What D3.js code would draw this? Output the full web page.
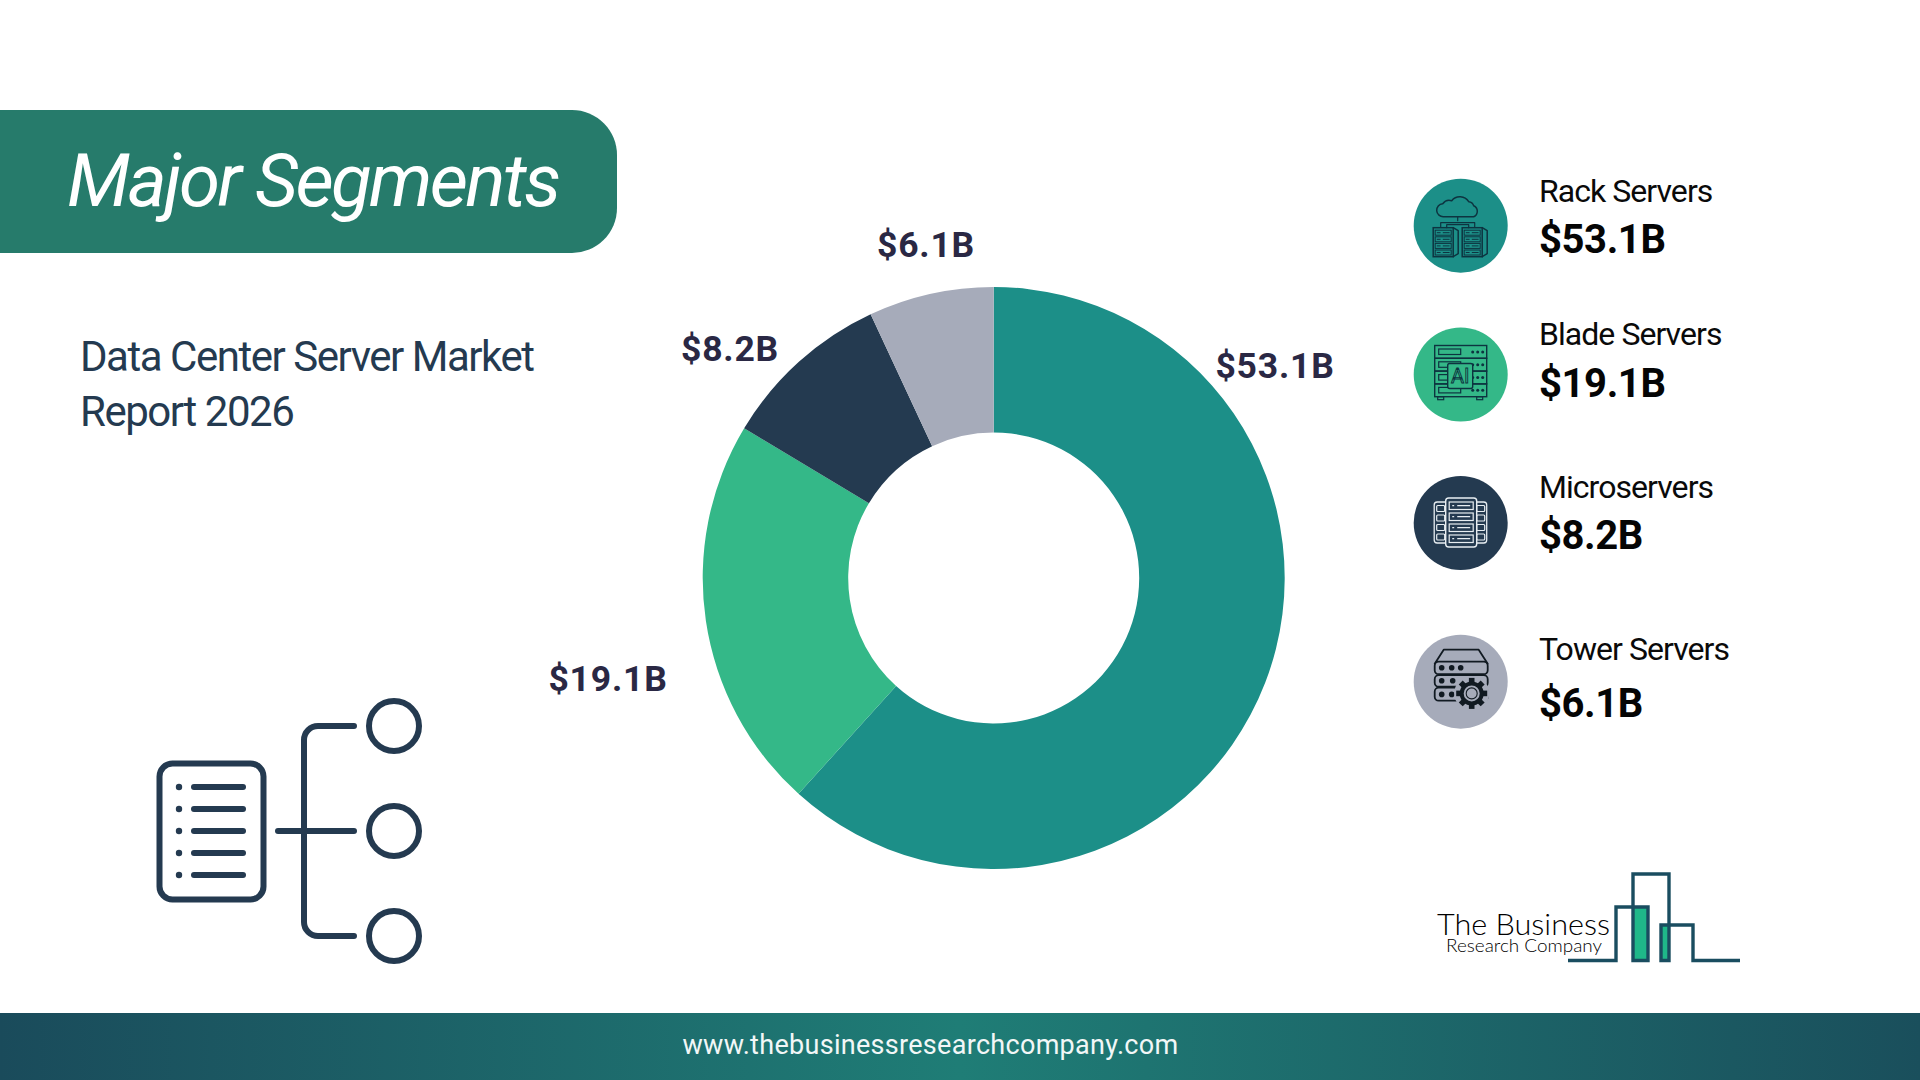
<!DOCTYPE html>
<html>
<head>
<meta charset="utf-8">
<script src="https://cdn.jsdelivr.net/npm/d3@7"></script>
<style>
  html, body { margin: 0; padding: 0; background: #fff; }
  svg { display: block; }
  text { font-family: Roboto, sans-serif; }
</style>
</head>
<body>
<svg id="chart" width="1920" height="1080"></svg>
<script>
// chart values
var categories = ["Rack Servers", "Blade Servers", "Microservers", "Tower Servers"];
var values = [53.1, 19.1, 8.2, 6.1];
// slice shares in percent, measured from the drawn donut (not quite values/total)
var shares = [61.7, 21.9, 9.45, 6.95];
var colors = ["#1c8f88", "#34b888", "#243a50", "#a6abba"];
var legendY = [225.7, 374.5, 523, 681.7];
var labelPos = [[1275, 365], [608, 678], [730, 348], [926, 244]];

var svg = d3.select("#chart");
var defs = svg.append("defs");
var navy = "#243a50";

function money(v) { return "$" + v + "B"; }

// footer gradient
var grad = defs.append("linearGradient").attr("id", "foot");
grad.append("stop").attr("offset", "0%").attr("stop-color", "#1a4b5b");
grad.append("stop").attr("offset", "50%").attr("stop-color", "#1f7d76");
grad.append("stop").attr("offset", "100%").attr("stop-color", "#1a4f5c");

// title tab
svg.append("path")
  .attr("d", "M0,110 H572 A45,45 0 0 1 617,155 V208 A45,45 0 0 1 572,253 H0 Z")
  .attr("fill", "#267b6b");
svg.append("text")
  .attr("x", 67).attr("y", 206)
  .attr("fill", "#fff")
  .style("font-size", "74.5px").style("font-weight", 400).style("font-style", "italic")
  .style("letter-spacing", "-2.6px")
  .text("Major Segments");

// subtitle
svg.append("text").attr("x", 80).attr("y", 371).attr("fill", navy)
  .style("font-size", "42px").style("font-weight", 400).style("letter-spacing", "-1.47px")
  .text("Data Center Server Market");
svg.append("text").attr("x", 80).attr("y", 426).attr("fill", navy)
  .style("font-size", "42px").style("font-weight", 400).style("letter-spacing", "-1.47px")
  .text("Report 2026");

// donut
var pie = d3.pie().sort(null).value(function(d) { return d; });
var arc = d3.arc().innerRadius(145.5).outerRadius(291);
var donut = svg.append("g").attr("transform", "translate(993.7,578)");
donut.selectAll("path").data(pie(shares)).enter().append("path")
  .attr("d", arc)
  .attr("fill", function(d, i) { return colors[i]; });

svg.selectAll("text.lab").data(values).enter().append("text")
  .attr("class", "lab")
  .attr("x", function(d, i) { return labelPos[i][0]; })
  .attr("y", function(d, i) { return labelPos[i][1]; })
  .attr("text-anchor", "middle")
  .attr("dy", "0.36em")
  .attr("fill", "#2a2844")
  .style("font-size", "35.5px").style("font-weight", 700).style("letter-spacing", "0.8px")
  .text(money);

// legend
var rows = svg.selectAll("g.row").data(categories).enter().append("g")
  .attr("class", "row")
  .attr("transform", function(d, i) { return "translate(1460.7," + legendY[i] + ")"; });
rows.append("circle").attr("r", 47).attr("fill", function(d, i) { return colors[i]; });

var nameBase = [201.7, 345, 497.7, 660];
var valueBase = [253, 396.5, 548.5, 717];
categories.forEach(function(c, i) {
  svg.append("text").attr("x", 1539).attr("y", nameBase[i]).attr("fill", "#0a0a0a")
    .style("font-size", "32px").style("font-weight", 400).style("letter-spacing", "-0.95px")
    .text(c);
  svg.append("text").attr("x", 1539).attr("y", valueBase[i]).attr("fill", "#050505")
    .style("font-size", "40px").style("font-weight", 700).style("letter-spacing", "-0.4px")
    .text(money(values[i]));
});

// icons
function box(g, x, y, w, h, col, sw, r, fill) {
  return g.append("rect").attr("x", x).attr("y", y).attr("width", w).attr("height", h)
    .attr("rx", r || 0).attr("fill", fill || "none").attr("stroke", col).attr("stroke-width", sw);
}
function seg(g, d, col, sw) {
  return g.append("path").attr("d", d).attr("fill", "none").attr("stroke", col)
    .attr("stroke-width", sw).attr("stroke-linecap", "round").attr("stroke-linejoin", "round");
}

// rack: cloud and two cabinets
var ink = "#0d3440";
var g0 = d3.select(rows.nodes()[0]);
seg(g0, "M-17,-9 A6.5,6.5 0 0 1 -18,-22 A8,8 0 0 1 -9,-25 A10.5,10.5 0 0 1 8,-24 A6,6 0 0 1 13,-20 A6,6 0 0 1 13,-9 Z", ink, 1.5);
seg(g0, "M-3,-9 V-5 M-20,1 V-3 H14 V1 M-14,2 V-1 H8 V2", ink, 1.2);
[-27.5, 1.5].forEach(function(x) {
  box(g0, x, 2, 20, 29, ink, 1.5);
  seg(g0, "M" + (x + 20) + ",2 l5,3 v23 l-5,3", ink, 1.5);
  d3.range(4).forEach(function(k) {
    box(g0, x + 2, 4.5 + k * 6.6, 16, 5, ink, 1);
    seg(g0, "M" + (x + 4) + "," + (7 + k * 6.6) + " h3 M" + (x + 10) + "," + (7 + k * 6.6) + " h6", ink, 1);
  });
});

// blade: four trays and an AI chip
var g1 = d3.select(rows.nodes()[1]);
d3.range(4).forEach(function(k) {
  var y = -29 + k * 12.8;
  box(g1, -26, y, 52, 12.8, ink, 1.4);
  box(g1, -22, y + 3.5, 22, 5.5, ink, 1.2);
  [12, 17, 22].forEach(function(x) {
    g1.append("circle").attr("cx", x).attr("cy", y + 6.4).attr("r", 1.5).attr("fill", ink);
  });
});
box(g1, -23, 22.2, 6, 3, ink, 1.2);
box(g1, 16, 22.2, 6, 3, ink, 1.2);
box(g1, -13, -11, 25, 25, ink, 1.4, 2, colors[1]);
g1.append("text").attr("x", -0.5).attr("y", 8.5).attr("text-anchor", "middle")
  .attr("fill", colors[1]).attr("stroke", ink).attr("stroke-width", 0.9)
  .style("font-size", "20px").style("font-weight", 400).text("AI");

// micro: white outlined cabinets
var g2 = d3.select(rows.nodes()[2]);
var pale = "#e8eef2";
box(g2, -26.5, -21, 18, 41, pale, 1.3, 3);
box(g2, 8, -21, 18, 41, pale, 1.3, 3);
d3.range(4).forEach(function(k) {
  box(g2, -24, -17.5 + k * 9.5, 8, 6, pale, 1.2, 1);
  box(g2, 16, -17.5 + k * 9.5, 8, 6, pale, 1.2, 1);
});
box(g2, -15, -25, 31, 49, pale, 1.4, 3, colors[2]);
d3.range(4).forEach(function(k) {
  var y = -21 + k * 11;
  box(g2, -11.5, y, 24, 7.5, pale, 1.2);
  seg(g2, "M-8," + (y + 3.7) + " h1 M-3," + (y + 3.7) + " h12", pale, 1.2);
});

// tower: stacked units and a gear
var g3 = d3.select(rows.nodes()[3]);
var dark = "#111a22";
seg(g3, "M-26,-18 L-17,-32 H18 L27,-18", dark, 1.8);
box(g3, -26, -20, 53, 12.5, dark, 1.8, 4);
box(g3, -26, -6.5, 53, 11.5, dark, 1.8, 4);
box(g3, -26, 6, 53, 13, dark, 1.8, 4);
[[-19, -14], [-9, -14], [0, -14], [-19, -1], [-8, -1], [-19, 12.7], [-9, 12.7]].forEach(function(p) {
  g3.append("circle").attr("cx", p[0]).attr("cy", p[1]).attr("r", 2.8).attr("fill", dark);
});
var gear = g3.append("g").attr("transform", "translate(11,11.7)");
gear.append("circle").attr("r", 17.5).attr("fill", colors[3]);
d3.range(8).forEach(function(k) {
  gear.append("rect").attr("x", -2.8).attr("y", -15.5).attr("width", 5.6).attr("height", 7)
    .attr("fill", dark).attr("transform", "rotate(" + k * 45 + ")");
});
gear.append("circle").attr("r", 10).attr("fill", colors[3]).attr("stroke", dark).attr("stroke-width", 4);
gear.append("circle").attr("r", 5.5).attr("fill", "none").attr("stroke", dark).attr("stroke-width", 1.1);

// segments pictogram, lower left
var pic = svg.append("g");
box(pic, 159.5, 763.5, 104, 136, navy, 6, 13);
[787, 809, 831, 853, 875].forEach(function(y) {
  pic.append("circle").attr("cx", 179).attr("cy", y).attr("r", 3.2).attr("fill", navy);
  seg(pic, "M194," + y + " H243", navy, 6);
});
seg(pic, "M278,831 H354", navy, 6);
seg(pic, "M354,726 H318 A14,14 0 0 0 304,740 V922 A14,14 0 0 0 318,936 H354", navy, 6);
[726, 831, 936].forEach(function(y) {
  pic.append("circle").attr("cx", 394).attr("cy", y).attr("r", 25)
    .attr("fill", "none").attr("stroke", navy).attr("stroke-width", 6);
});

// logo
var logo = svg.append("g");
logo.append("rect").attr("x", 1633).attr("y", 907).attr("width", 15).attr("height", 53).attr("fill", "#1fb889");
logo.append("rect").attr("x", 1661).attr("y", 925).attr("width", 8).attr("height", 35).attr("fill", "#1fb889");
var logoInk = "#1a4d60";
logo.append("path")
  .attr("d", "M1568,960.5 H1616 V907 H1648 V960.5 H1633 V874 H1669 V960.5 H1661 V925 H1693 V960.5 H1740")
  .attr("fill", "none").attr("stroke", logoInk).attr("stroke-width", 3.4);
logo.append("text").attr("x", 1437).attr("y", 935).attr("fill", "#000")
  .attr("textLength", 173).attr("lengthAdjust", "spacingAndGlyphs")
  .style("font-family", "Lato").style("font-size", "30px").style("font-weight", 300)
  .text("The Business");
logo.append("text").attr("x", 1446).attr("y", 951.5).attr("fill", "#000")
  .attr("textLength", 156).attr("lengthAdjust", "spacingAndGlyphs")
  .style("font-family", "Lato").style("font-size", "17.5px").style("font-weight", 300)
  .text("Research Company");

// footer
svg.append("rect").attr("x", 0).attr("y", 1013).attr("width", 1920).attr("height", 67).attr("fill", "url(#foot)");
svg.append("text").attr("x", 930.5).attr("y", 1054).attr("text-anchor", "middle").attr("fill", "#f2f7f7")
  .style("font-size", "27px").style("font-weight", 400).style("letter-spacing", "0.3px")
  .text("www.thebusinessresearchcompany.com");
</script>
</body>
</html>
